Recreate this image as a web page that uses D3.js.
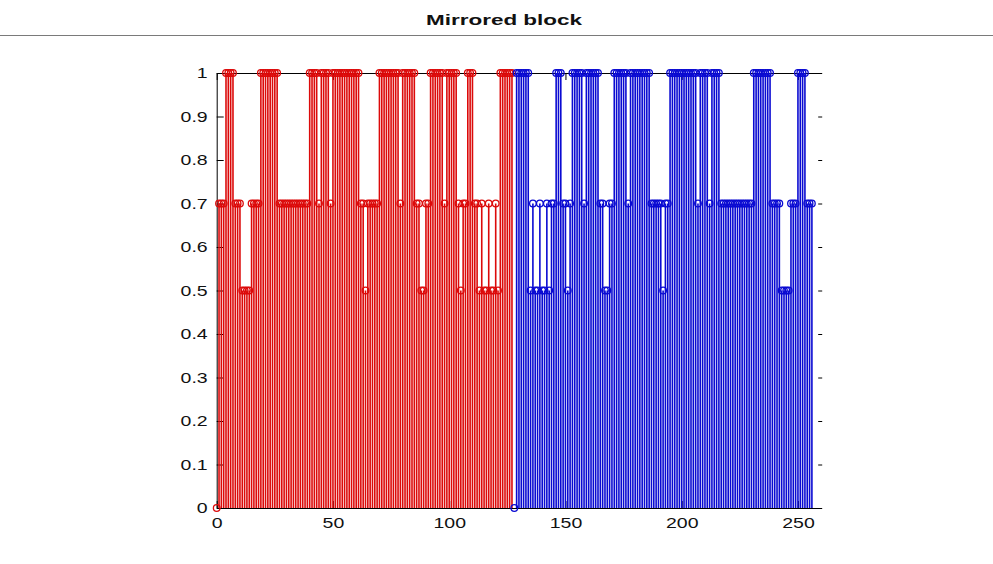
<!DOCTYPE html>
<html>
<head>
<meta charset="utf-8">
<script src="https://cdn.jsdelivr.net/npm/d3@7"></script>
<style>
  body { margin: 0; background: #fff; }
  svg { display: block; }
</style>
</head>
<body>
<svg id="chart" width="993" height="564"></svg>
<script>
// Stem plot data: first block (red) and its mirrored block (blue)
const titleText = "Mirrored block";
const redStart = 0;
const redValues = [
  0, 0.7, 0.7, 0.7, 1, 1, 1, 1, 0.7, 0.7,
  0.7, 0.5, 0.5, 0.5, 0.5, 0.7, 0.7, 0.7, 0.7, 1,
  1, 1, 1, 1, 1, 1, 1, 0.7, 0.7, 0.7,
  0.7, 0.7, 0.7, 0.7, 0.7, 0.7, 0.7, 0.7, 0.7, 0.7,
  1, 1, 1, 1, 0.7, 1, 1, 1, 1, 0.7,
  1, 1, 1, 1, 1, 1, 1, 1, 1, 1,
  1, 1, 0.7, 0.7, 0.5, 0.7, 0.7, 0.7, 0.7, 0.7,
  1, 1, 1, 1, 1, 1, 1, 1, 1, 0.7,
  1, 1, 1, 1, 1, 1, 0.7, 0.7, 0.5, 0.5,
  0.7, 0.7, 1, 1, 1, 1, 1, 1, 0.7, 1,
  1, 1, 1, 1, 0.7, 0.5, 0.7, 0.7, 1, 1,
  1, 0.7, 0.7, 0.5, 0.7, 0.5, 0.5, 0.7, 0.5, 0.5,
  0.7, 0.5, 1, 1, 1, 1, 1, 1
];
const blueStart = 128;
const blueValues = [
  0, 1, 1, 1, 1, 1, 1, 0.5, 0.7, 0.5,
  0.5, 0.7, 0.5, 0.5, 0.7, 0.5, 0.7, 0.7, 1, 1,
  1, 0.7, 0.7, 0.5, 0.7, 1, 1, 1, 1, 1,
  0.7, 1, 1, 1, 1, 1, 1, 0.7, 0.7, 0.5,
  0.5, 0.7, 0.7, 1, 1, 1, 1, 1, 1, 0.7,
  1, 1, 1, 1, 1, 1, 1, 1, 1, 0.7,
  0.7, 0.7, 0.7, 0.7, 0.5, 0.7, 0.7, 1, 1, 1,
  1, 1, 1, 1, 1, 1, 1, 1, 1, 0.7,
  1, 1, 1, 1, 0.7, 1, 1, 1, 1, 0.7,
  0.7, 0.7, 0.7, 0.7, 0.7, 0.7, 0.7, 0.7, 0.7, 0.7,
  0.7, 0.7, 0.7, 1, 1, 1, 1, 1, 1, 1,
  1, 0.7, 0.7, 0.7, 0.7, 0.5, 0.5, 0.5, 0.5, 0.7,
  0.7, 0.7, 1, 1, 1, 1, 0.7, 0.7, 0.7
];
const xTicks = [0, 50, 100, 150, 200, 250];
const yTicks = [0, 0.1, 0.2, 0.3, 0.4, 0.5, 0.6, 0.7, 0.8, 0.9, 1];
const xDomain = [0, 260];
const yDomain = [0, 1];

const series = [
  { name: "block", color: "#dc0a0a", start: redStart, values: redValues },
  { name: "mirror", color: "#0a0ad2", start: blueStart, values: blueValues }
];

const svg = d3.select("#chart");
const x = d3.scaleLinear().domain(xDomain).range([216.7, 821.2]);
const y = d3.scaleLinear().domain(yDomain).range([508, 73]);

const font = "'Liberation Sans', Arial, sans-serif";

// Title with a rule across the figure
svg.append("text")
  .attr("x", 504).attr("y", 25)
  .attr("text-anchor", "middle")
  .attr("font-family", font)
  .attr("font-weight", "bold")
  .attr("font-size", 14.5)
  .attr("textLength", 156)
  .attr("lengthAdjust", "spacingAndGlyphs")
  .attr("fill", "#111")
  .text(titleText);
svg.append("line")
  .attr("x1", 0).attr("x2", 993)
  .attr("y1", 35.5).attr("y2", 35.5)
  .attr("stroke", "#7a7a7a").attr("stroke-width", 1.2);

// Axes (box style: ticks pointing inward)
const fmt = d => String(+d.toFixed(1));
const gx = svg.append("g").attr("transform", `translate(0,${y(0)})`)
  .call(d3.axisBottom(x).tickValues(xTicks).tickFormat(fmt).tickSize(-7).tickSizeOuter(0).tickPadding(9));
const gy = svg.append("g").attr("transform", `translate(${x(0)},0)`)
  .call(d3.axisLeft(y).tickValues(yTicks).tickFormat(fmt).tickSize(-7).tickSizeOuter(0).tickPadding(9));
const gt = svg.append("g").attr("transform", `translate(0,${y(1)})`)
  .call(d3.axisTop(x).tickValues(xTicks).tickFormat("").tickSize(-7).tickSizeOuter(0));
const gr = svg.append("g").attr("transform", `translate(${x(xDomain[1]) + 1},0)`)
  .call(d3.axisRight(y).tickValues(yTicks).tickFormat("").tickSize(-4).tickSizeOuter(0));
gr.select(".domain").remove();

[gx, gy, gt, gr].forEach(g => {
  g.selectAll("path, line").attr("stroke", "#000").attr("stroke-width", 1);
  g.selectAll("text")
    .attr("font-family", font)
    .attr("font-size", 15)
    .attr("fill", "#111");
});
// widen the tick labels
[gx, gy].forEach(g => {
  g.selectAll(".tick text").each(function () {
    const w = this.getComputedTextLength();
    d3.select(this).attr("textLength", w * 1.3).attr("lengthAdjust", "spacingAndGlyphs");
  });
});

// Stems and circle markers
series.forEach(s => {
  const pts = s.values.map((v, i) => ({ k: s.start + i, v }));
  const g = svg.append("g").attr("class", s.name);
  g.selectAll("line.stem").data(pts).join("line")
    .attr("class", "stem")
    .attr("x1", d => x(d.k)).attr("x2", d => x(d.k))
    .attr("y1", y(0)).attr("y2", d => y(d.v))
    .attr("stroke", s.color).attr("stroke-width", 1.6);
  g.selectAll("circle").data(pts).join("circle")
    .attr("cx", d => x(d.k)).attr("cy", d => y(d.v)).attr("r", 3.3)
    .attr("fill", "none").attr("stroke", s.color).attr("stroke-width", 1.3);
});
</script>
</body>
</html>
